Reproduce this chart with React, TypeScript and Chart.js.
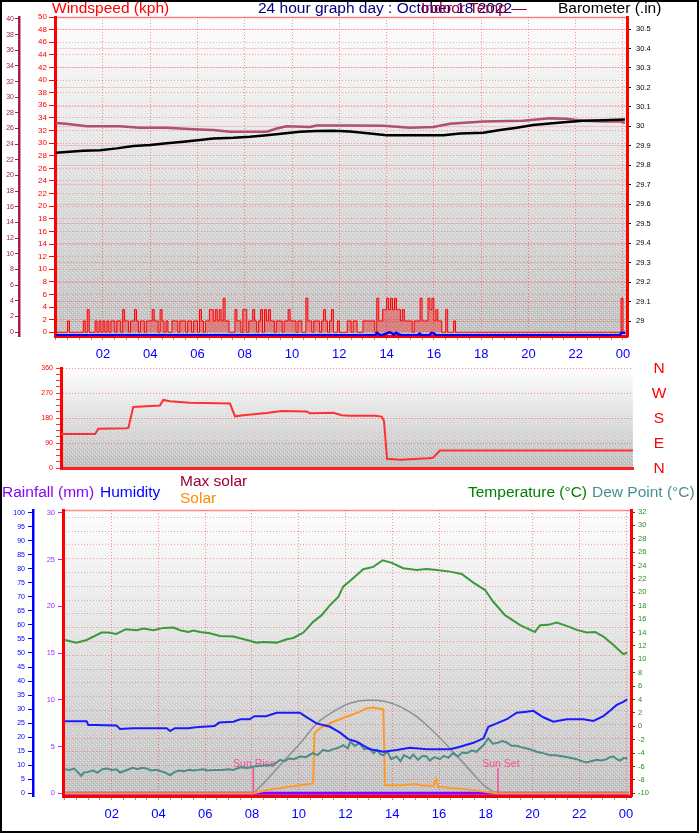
import React, { useEffect, useRef } from "react";
import { Chart, registerables } from "chart.js";

Chart.register(...registerables);

const FONT = '"Liberation Sans", Arial, Helvetica, sans-serif';

// ---------------- tick positions / labels ----------------
const HOUR_TICKS = Array.from({ length: 49 }, (_, i) => i / 2);
const WIND_TICKS = Array.from({ length: 26 }, (_, i) => i * 2);
const INDOOR_TICKS = Array.from({ length: 21 }, (_, i) => i * 2);
const BARO_TICKS = [29.0, 29.1, 29.2, 29.3, 29.4, 29.5, 29.6, 29.7, 29.8, 29.9, 30.0, 30.1, 30.2, 30.3, 30.4, 30.5];
const DIR_TICKS = [0, 22.5, 45, 67.5, 90, 112.5, 135, 157.5, 180, 202.5, 225, 247.5, 270, 292.5, 315, 337.5, 360];
const COMPASS_LABELS = ["N", "W", "S", "E", "N"]; // top to bottom: 360, 270, 180, 90, 0
const HUM_TICKS = Array.from({ length: 21 }, (_, i) => i * 5);
const RAIN_TICKS = [0, 5, 10, 15, 20, 25, 30];
const TEMP_TICKS = Array.from({ length: 22 }, (_, i) => -10 + i * 2);
const GRID3_TICKS = Array.from({ length: 21 }, (_, i) => i);

// ---------------- panel 1: wind / barometer / indoor ----------------
// wind speed (kph), one reading every 5 minutes, rows = hours 00..23
const WIND_SPEED = [
  0, 0, 0, 0, 0, 0, 1.8, 0, 0, 0, 0, 0,
  0, 0, 1.8, 0, 3.6, 0, 0, 0, 1.8, 0, 1.8, 0,
  1.8, 0, 1.8, 0, 1.8, 1.8, 0, 1.8, 1.8, 0, 3.6, 1.8,
  1.8, 0, 1.8, 1.8, 3.6, 1.8, 0, 1.8, 1.8, 0, 1.8, 1.8,
  1.8, 3.6, 1.8, 1.8, 0, 3.6, 1.8, 0, 1.8, 0, 0, 1.8,
  1.8, 1.8, 0, 1.8, 1.8, 1.8, 0, 1.8, 1.8, 0, 1.8, 1.8,
  0, 3.6, 1.8, 0, 1.8, 1.8, 3.6, 3.6, 1.8, 3.6, 1.8, 3.6,
  1.8, 5.4, 1.8, 1.8, 0, 0, 0, 3.6, 1.8, 1.8, 0, 3.6,
  3.6, 0, 1.8, 1.8, 3.6, 1.8, 0, 1.8, 3.6, 0, 3.6, 1.8,
  3.6, 1.8, 1.8, 0, 1.8, 1.8, 1.8, 0, 1.8, 1.8, 3.6, 1.8,
  1.8, 1.8, 0, 1.8, 1.8, 0, 0, 5.4, 1.8, 1.8, 0, 1.8,
  1.8, 1.8, 0, 1.8, 3.6, 1.8, 0, 1.8, 3.6, 0, 0, 1.8,
  0, 0, 0, 0, 1.8, 1.8, 0, 1.8, 1.8, 0, 0, 0,
  1.8, 1.8, 1.8, 1.8, 1.8, 1.8, 0, 5.4, 1.8, 1.8, 3.6, 3.6,
  5.4, 3.6, 5.4, 3.6, 5.4, 3.6, 3.6, 1.8, 3.6, 1.8, 1.8, 1.8,
  1.8, 0, 1.8, 1.8, 1.8, 5.4, 1.8, 1.8, 1.8, 5.4, 3.6, 5.4,
  1.8, 3.6, 1.8, 1.8, 0, 0, 3.6, 0, 0, 0, 1.8, 0,
  0, 0, 0, 0, 0, 0, 0, 0, 0, 0, 0, 0,
  0, 0, 0, 0, 0, 0, 0, 0, 0, 0, 0, 0,
  0, 0, 0, 0, 0, 0, 0, 0, 0, 0, 0, 0,
  0, 0, 0, 0, 0, 0, 0, 0, 0, 0, 0, 0,
  0, 0, 0, 0, 0, 0, 0, 0, 0, 0, 0, 0,
  0, 0, 0, 0, 0, 0, 0, 0, 0, 0, 0, 0,
  0, 0, 0, 0, 0, 0, 0, 0, 0, 0, 0, 5.4,
  0,
];
const WIND_HOURS = WIND_SPEED.map((_, i) => i / 12);

const AVG_HOURS = [0, 13.5, 13.6, 13.75, 14.0, 14.1, 14.2, 14.3, 14.4, 14.5, 14.7, 15.3, 15.4, 15.5, 15.8, 15.9, 16.0, 16.1, 23.85, 23.95, 24.1];
const AVG_WIND = [0, 0, 0.4, 0, 0.3, 0.5, 0.4, 0.1, 0.4, 0.2, 0, 0, 0.3, 0, 0, 0.4, 0.3, 0, 0, 0.4, 0.4];

const INDOOR_HOURS = [0, 0.45, 1.31, 1.9, 2.7, 3.57, 4.7, 5.82, 6.67, 7.37, 8.93, 9.35, 9.77, 10.76, 11.04, 12.45, 13.86, 14.99, 15.97, 16.68, 18.09, 19.78, 20.91, 21.6, 22.32, 23.16, 23.87, 24.08];
const INDOOR_TEMP = [26.7, 26.6, 26.3, 26.3, 26.3, 26.1, 26.1, 25.9, 25.8, 25.6, 25.6, 26.0, 26.3, 26.2, 26.4, 26.4, 26.35, 26.1, 26.2, 26.6, 26.9, 27.0, 27.3, 27.25, 27.0, 26.9, 26.9, 26.75];

const BARO_HOURS = [0, 1.17, 1.87, 2.58, 3.29, 4.0, 4.7, 5.4, 6.1, 6.67, 7.51, 8.22, 8.93, 9.63, 10.33, 11.04, 11.74, 12.45, 13.3, 14.0, 15.27, 16.4, 17.1, 18.09, 18.8, 19.5, 20.2, 20.91, 21.62, 22.32, 23.16, 24.08];
const BARO = [29.864, 29.875, 29.878, 29.887, 29.899, 29.904, 29.913, 29.921, 29.93, 29.938, 29.941, 29.947, 29.955, 29.964, 29.972, 29.976, 29.978, 29.974, 29.964, 29.955, 29.955, 29.955, 29.964, 29.967, 29.981, 29.993, 30.007, 30.015, 30.022, 30.029, 30.032, 30.036];

// ---------------- panel 2: wind direction ----------------
const DIR_HOURS = [0, 1.43, 1.57, 2.76, 2.83, 3.03, 4.15, 4.29, 4.57, 5.41, 7.09, 7.3, 7.65, 8.63, 9.26, 10.31, 10.45, 11.43, 11.78, 12.13, 13.18, 13.45, 13.55, 13.68, 14.23, 15.4, 15.61, 15.9, 24];
const DIR_DEG = [122, 122, 141, 143, 145, 220, 225, 245, 240, 235, 232, 186, 190, 198, 205, 203, 197, 199, 190, 188, 188, 185, 170, 33, 30, 35, 37, 63, 63];

// ---------------- panel 3: temperature / humidity / solar ----------------
const TEMP_HOURS = [0, 0.5, 0.93, 1.57, 1.85, 2.2, 2.61, 3.07, 3.36, 3.78, 4.21, 4.64, 4.93, 5.28, 5.5, 5.78, 6.2, 6.63, 7.2, 7.78, 8.2, 8.5, 9.06, 9.49, 9.77, 10.2, 10.62, 10.98, 11.34, 11.7, 11.9, 12.19, 12.76, 13.19, 13.59, 13.98, 14.47, 15.05, 15.47, 15.9, 16.47, 16.97, 17.47, 17.97, 18.32, 18.82, 19.47, 20.1, 20.32, 20.67, 21.03, 21.46, 21.89, 22.32, 22.67, 23.03, 23.46, 23.88, 24.05];
const TEMP = [12.9, 12.5, 12.9, 14.0, 14.0, 13.8, 14.5, 14.35, 14.6, 14.35, 14.7, 14.75, 14.35, 14.1, 14.3, 14.1, 13.9, 13.5, 13.4, 12.9, 12.5, 12.6, 12.5, 13.0, 13.2, 14.0, 15.6, 16.6, 18.1, 19.35, 20.85, 21.7, 23.45, 23.8, 24.8, 24.4, 23.6, 23.35, 23.5, 23.35, 23.1, 22.75, 21.45, 20.35, 18.6, 16.6, 15.1, 14.1, 15.1, 15.15, 15.5, 15.0, 14.4, 14.0, 14.1, 13.4, 12.15, 10.8, 11.0];

const HUM_HOURS = [0, 0.93, 1.0, 1.3, 2.2, 2.36, 2.9, 4.35, 4.5, 4.7, 5.28, 5.6, 6.4, 6.6, 7.2, 7.5, 7.9, 8.1, 8.6, 9.06, 10.05, 10.3, 10.76, 11.34, 11.77, 12.12, 12.48, 13.05, 13.62, 14.19, 14.76, 15.47, 16.04, 16.47, 16.9, 17.47, 17.9, 18.11, 18.47, 18.9, 19.32, 19.75, 20.03, 20.46, 20.89, 21.46, 22.17, 22.6, 23.03, 23.31, 23.6, 23.88, 24.05];
const HUMIDITY = [25.7, 25.7, 24.3, 24.3, 24.2, 22.9, 23.2, 23.2, 22.2, 23.2, 23.2, 23.5, 24.0, 25.2, 25.5, 26.4, 26.4, 27.5, 27.5, 28.7, 28.7, 27.3, 24.9, 23.7, 21.6, 19.3, 18.4, 15.7, 14.8, 15.4, 16.2, 15.7, 15.7, 15.7, 16.6, 18.0, 19.6, 23.7, 24.9, 26.4, 28.7, 29.1, 29.4, 27.1, 25.5, 26.4, 26.4, 25.8, 27.5, 29.4, 31.5, 32.6, 33.5];

const DEW_HOURS = [0, 0.2, 0.4, 0.6, 0.7, 0.8, 1.0, 1.2, 1.4, 1.6, 1.8, 2.0, 2.2, 2.36, 2.6, 2.9, 3.1, 3.3, 3.5, 3.7, 3.9, 4.1, 4.3, 4.5, 4.7, 4.9, 5.1, 5.3, 5.5, 5.7, 5.9, 6.1, 6.4, 6.7, 7.0, 7.2, 7.5, 7.8, 8.1, 8.35, 8.6, 8.9, 9.2, 9.4, 9.6, 9.8, 10.05, 10.3, 10.6, 10.8, 11.05, 11.25, 11.48, 11.7, 11.9, 12.1, 12.2, 12.4, 12.6, 12.8, 13.05, 13.2, 13.35, 13.5, 13.62, 13.8, 13.95, 14.19, 14.35, 14.5, 14.76, 14.9, 15.1, 15.3, 15.47, 15.6, 15.8, 16.04, 16.2, 16.4, 16.6, 16.8, 17.0, 17.18, 17.4, 17.6, 17.9, 18.11, 18.3, 18.47, 18.7, 18.9, 19.1, 19.32, 19.5, 19.75, 19.95, 20.17, 20.45, 20.75, 21.0, 21.32, 21.6, 21.89, 22.1, 22.32, 22.5, 22.74, 22.95, 23.17, 23.3, 23.46, 23.6, 23.74, 23.9, 24.05];
const DEW_POINT = [-6.4, -6.5, -6.3, -7.0, -7.4, -6.9, -6.8, -6.6, -6.9, -6.4, -6.3, -6.5, -6.4, -6.9, -6.6, -6.2, -6.4, -6.2, -6.3, -6.6, -6.5, -6.7, -6.9, -7.3, -6.8, -6.6, -6.7, -6.5, -6.6, -6.5, -6.4, -6.6, -6.5, -6.5, -6.4, -6.5, -6.1, -6.2, -6.0, -5.9, -5.8, -5.8, -5.0, -5.2, -4.8, -4.9, -4.5, -4.6, -4.0, -4.3, -3.5, -3.7, -3.4, -3.2, -2.8, -3.3, -2.3, -2.9, -2.5, -3.4, -3.3, -4.0, -3.5, -4.2, -4.3, -3.8, -4.9, -4.5, -5.2, -4.3, -4.8, -4.2, -5.0, -4.4, -4.5, -5.1, -4.6, -4.9, -4.4, -4.7, -4.0, -4.5, -3.9, -4.0, -3.6, -3.8, -2.8, -1.8, -2.6, -2.5, -2.2, -2.4, -2.9, -2.9, -3.1, -3.3, -3.5, -3.8, -4.0, -4.3, -4.3, -4.5, -4.7, -4.9, -5.2, -5.4, -5.2, -5.0, -5.1, -4.9, -4.6, -4.5, -4.9, -5.1, -4.7, -4.8];

const SOLAR_HOURS = [0, 8.06, 8.63, 9.34, 10.06, 10.62, 10.67, 10.91, 11.48, 12.05, 12.62, 12.91, 13.19, 13.62, 13.69, 14.33, 15.05, 15.19, 15.76, 15.86, 15.97, 16.6, 17.19, 17.9, 18.47, 24.1];
const SOLAR = [0, 0, 11, 21, 29, 35, 214, 232, 255, 273, 291, 303, 306, 299, 29, 29, 33, 29, 26, 52, 23, 18, 14, 6, 0, 0];

const MAXSOLAR_HOURS = [8.06, 8.63, 9.34, 10.06, 10.77, 11.48, 12.19, 12.91, 13.33, 13.76, 14.33, 15.05, 15.76, 16.47, 17.19, 17.9, 18.33, 18.54];
const MAX_SOLAR = [0, 47, 113, 178, 249, 291, 321, 332, 332, 326, 309, 273, 220, 160, 95, 30, 6, 0];

const RAIN_HOURS = [0, 24.1];
const RAINFALL = [0, 0];

const SUN_RISE = 8.06;
const SUN_SET = 18.52;
const SUN_MARK_TOP = 9; // marker height on humidity scale

// ---------------- helpers ----------------
type P = { x: number; y: number };
const pts = (xs: number[], ys: number[]): P[] => xs.map((x, i) => ({ x, y: ys[i] }));
const setTicks = (vals: number[]) => (axis: any) => {
  axis.ticks = vals.map((v) => ({ value: v }));
};
const fixW = (w: number) => (axis: any) => {
  axis.width = w;
};
const fixH = (h: number) => (axis: any) => {
  axis.height = h;
};
const hourLabel = (v: any) => {
  const n = Number(v);
  return n > 0 && Math.abs(n % 2) < 1e-9 ? String(n % 24).padStart(2, "0") : "";
};
const evenHourGrid = (c: any) => {
  const v = c.tick ? c.tick.value : -1;
  return v > 0 && Math.abs(v % 2) < 1e-9 ? "rgba(255,40,40,0.5)" : "rgba(0,0,0,0)";
};

let stipple: CanvasPattern | null = null;
const getStipple = (ctx: CanvasRenderingContext2D) => {
  if (stipple) return stipple;
  const c = document.createElement("canvas");
  c.width = 4;
  c.height = 4;
  const g = c.getContext("2d")!;
  g.fillStyle = "rgba(255,255,255,0.5)";
  g.fillRect(0, 0, 1, 1);
  g.fillRect(2, 2, 1, 1);
  g.fillStyle = "rgba(90,90,90,0.08)";
  g.fillRect(1, 3, 1, 1);
  g.fillRect(3, 1, 1, 1);
  stipple = ctx.createPattern(c, "repeat");
  return stipple;
};

const panelBg = {
  id: "panelBg",
  beforeDraw(chart: any, _a: any, opts: any) {
    const { ctx, chartArea: a } = chart;
    if (!a) return;
    ctx.save();
    const g = ctx.createLinearGradient(0, a.top, 0, a.bottom);
    g.addColorStop(0, opts.top || "#ffffff");
    g.addColorStop(1, opts.bottom || "#c0c0c0");
    ctx.fillStyle = g;
    ctx.fillRect(a.left, a.top, a.right - a.left, a.bottom - a.top);
    const p = getStipple(ctx);
    if (p) {
      ctx.fillStyle = p;
      ctx.fillRect(a.left, a.top, a.right - a.left, a.bottom - a.top);
    }
    if (opts.topLine) {
      ctx.strokeStyle = opts.topLine;
      ctx.lineWidth = 1.5;
      ctx.beginPath();
      ctx.moveTo(a.left, a.top + 0.5);
      ctx.lineTo(a.right, a.top + 0.5);
      ctx.stroke();
    }
    ctx.restore();
  },
};

const sunLabels = {
  id: "sunLabels",
  beforeDatasetsDraw(chart: any) {
    const { ctx } = chart;
    const x = chart.scales.x;
    const y = chart.scales.yHum;
    if (!x || !y) return;
    ctx.save();
    ctx.font = `10.5px ${FONT}`;
    ctx.fillStyle = "#f0509a";
    ctx.textAlign = "center";
    ctx.textBaseline = "alphabetic";
    const yy = y.getPixelForValue(SUN_MARK_TOP) - 1;
    ctx.fillText("Sun Rise", x.getPixelForValue(SUN_RISE) + 1, yy);
    ctx.fillText("Sun Set", x.getPixelForValue(SUN_SET) + 3, yy);
    ctx.restore();
  },
};

const baseOpts = (bg: any) => ({
  responsive: false,
  maintainAspectRatio: false,
  animation: false as const,
  events: [] as any[],
  plugins: { legend: { display: false }, tooltip: { enabled: false }, panelBg: bg },
  elements: { point: { radius: 0 }, line: { tension: 0 } },
});

// ---------------- chart configs ----------------
function config1(): any {
  return {
    type: "line",
    data: {
      datasets: [
        { data: pts(AVG_HOURS, AVG_WIND), yAxisID: "yAvg", borderColor: "#0000ff", borderWidth: 2.5, order: 0 },
        { data: pts(BARO_HOURS, BARO), yAxisID: "yBaro", borderColor: "#000000", borderWidth: 2.5, order: 1 },
        { data: pts(INDOOR_HOURS, INDOOR_TEMP), yAxisID: "yIn", borderColor: "#b0506e", borderWidth: 2.5, order: 2 },
        {
          data: pts(WIND_HOURS, WIND_SPEED),
          yAxisID: "yWind",
          borderColor: "#ff0000",
          backgroundColor: "rgba(255,0,0,0.35)",
          fill: "origin",
          stepped: true,
          borderWidth: 1,
          order: 3,
        },
      ],
    },
    options: {
      ...baseOpts({ top: "#ffffff", bottom: "#c2c2c2", topLine: "rgba(255,60,60,0.6)" }),
      layout: { padding: { top: 17, left: 0, right: 0, bottom: 0 } },
      scales: {
        x: {
          type: "linear",
          min: -0.03,
          max: 24.17,
          afterBuildTicks: setTicks(HOUR_TICKS),
          afterFit: fixH(29),
          ticks: { autoSkip: false, maxRotation: 0, minRotation: 0, padding: 7, color: "#0000ff", font: { family: FONT, size: 13 }, callback: hourLabel },
          grid: { color: evenHourGrid, tickColor: "#999999", tickLength: 4 },
          border: { display: true, color: "#ff0000", width: 3, dash: [1, 2] },
        },
        yWind: {
          type: "linear",
          position: "left",
          weight: 0,
          min: -0.59,
          max: 50,
          afterBuildTicks: setTicks(WIND_TICKS),
          afterFit: fixW(36),
          ticks: { autoSkip: false, padding: 2, color: "#ff0000", font: { family: FONT, size: 8 } },
          grid: { color: "rgba(255,40,40,0.4)", tickColor: "#ff0000", tickLength: 6 },
          border: { display: true, color: "#ff0000", width: 3, dash: [1, 2] },
        },
        yIn: {
          type: "linear",
          position: "left",
          weight: 1,
          min: -0.5,
          max: 40.25,
          afterBuildTicks: setTicks(INDOOR_TICKS),
          afterFit: fixW(19),
          ticks: { autoSkip: false, padding: 1, color: "#a0204a", font: { family: FONT, size: 7 } },
          grid: { drawOnChartArea: false, tickColor: "#a0204a", tickLength: 4 },
          border: { display: true, color: "#a0204a", width: 2.5 },
        },
        yBaro: {
          type: "linear",
          position: "right",
          min: 28.923,
          max: 30.562,
          afterBuildTicks: setTicks(BARO_TICKS),
          afterFit: fixW(72),
          ticks: {
            autoSkip: false,
            padding: 5,
            color: "#000000",
            font: { family: FONT, size: 7.5 },
            callback: (v: any) => String(Number(Number(v).toFixed(1))),
          },
          grid: { color: "rgba(255,40,40,0.2)", tickColor: "#000000", tickLength: 4 },
          border: { display: true, color: "#ff0000", width: 3 },
        },
        yAvg: { type: "linear", display: false, min: -0.1, max: 50.5 },
      },
    },
    plugins: [panelBg],
  };
}

function config2(): any {
  return {
    type: "line",
    data: {
      datasets: [{ data: pts(DIR_HOURS, DIR_DEG), yAxisID: "yDir", borderColor: "#ff3030", borderWidth: 2 }],
    },
    options: {
      ...baseOpts({ top: "#ffffff", bottom: "#bfbfbf" }),
      layout: { padding: { top: 13, left: 0, right: 66, bottom: 17 } },
      scales: {
        x: {
          type: "linear",
          min: 0,
          max: 24,
          afterFit: fixH(0),
          ticks: { display: false },
          grid: { display: false, drawTicks: false },
          border: { display: true, color: "#ff2020", width: 3 },
        },
        yDir: {
          type: "linear",
          position: "left",
          min: 0,
          max: 360,
          afterBuildTicks: setTicks(DIR_TICKS),
          afterFit: fixW(61),
          ticks: {
            autoSkip: false,
            padding: 3,
            color: "#ff0000",
            font: { family: FONT, size: 7 },
            callback: (v: any) => (Number(v) % 90 === 0 ? String(v) : ""),
          },
          grid: {
            color: (c: any) => (c.tick && c.tick.value % 90 === 0 && c.tick.value > 0 ? "rgba(255,40,40,0.5)" : "rgba(0,0,0,0)"),
            tickColor: "#ff3030",
            tickLength: 5,
          },
          border: { display: true, color: "#ff0000", width: 3, dash: [1, 2] },
        },
      },
    },
    plugins: [panelBg],
  };
}

function config3(): any {
  return {
    type: "line",
    data: {
      datasets: [
        { data: [{ x: SUN_RISE, y: 0 }, { x: SUN_RISE, y: SUN_MARK_TOP }], yAxisID: "yHum", borderColor: "#f0509a", borderWidth: 1.5, order: 0 },
        { data: [{ x: SUN_SET, y: 0 }, { x: SUN_SET, y: SUN_MARK_TOP }], yAxisID: "yHum", borderColor: "#f0509a", borderWidth: 1.5, order: 0 },
        { data: pts(HUM_HOURS, HUMIDITY), yAxisID: "yHum", borderColor: "#1a1aff", borderWidth: 2, order: 1 },
        { data: pts(DEW_HOURS, DEW_POINT), yAxisID: "yTemp", borderColor: "#4d8c88", borderWidth: 2, order: 2 },
        { data: pts(TEMP_HOURS, TEMP), yAxisID: "yTemp", borderColor: "#3a9a3a", borderWidth: 2, order: 3 },
        { data: pts(SOLAR_HOURS, SOLAR), yAxisID: "ySolar", borderColor: "#ff9a2a", borderWidth: 2, order: 4 },
        { data: pts(MAXSOLAR_HOURS, MAX_SOLAR), yAxisID: "ySolar", borderColor: "#909090", borderWidth: 1.5, cubicInterpolationMode: "monotone", order: 5 },
        { data: pts(RAIN_HOURS, RAINFALL), yAxisID: "yRain", borderColor: "#8a00ff", borderWidth: 3, order: 6 },
      ],
    },
    options: {
      ...baseOpts({ top: "#ffffff", bottom: "#c2c2c2", topLine: "rgba(255,60,60,0.6)" }),
      layout: { padding: { top: 10, left: 0, right: 0, bottom: 0 } },
      scales: {
        x: {
          type: "linear",
          min: -0.08,
          max: 24.21,
          afterBuildTicks: setTicks(HOUR_TICKS),
          afterFit: fixH(34),
          ticks: { autoSkip: false, maxRotation: 0, minRotation: 0, padding: 7, color: "#0000ff", font: { family: FONT, size: 13 }, callback: hourLabel },
          grid: { color: evenHourGrid, tickColor: "#999999", tickLength: 4 },
          border: { display: true, color: "#ff0000", width: 3, dash: [1, 2] },
        },
        yRain: {
          type: "linear",
          position: "left",
          weight: 0,
          min: -0.29,
          max: 30.29,
          afterBuildTicks: setTicks(RAIN_TICKS),
          afterFit: fixW(30),
          ticks: { autoSkip: false, padding: 3, color: "#9933ff", font: { family: FONT, size: 7.5 } },
          grid: { drawOnChartArea: false, tickColor: "#9933ff", tickLength: 5 },
          border: { display: true, color: "#ff0000", width: 3 },
        },
        yHum: {
          type: "linear",
          position: "left",
          weight: 1,
          min: -0.96,
          max: 100.96,
          afterBuildTicks: setTicks(HUM_TICKS),
          afterFit: fixW(33),
          ticks: { autoSkip: false, padding: 3, color: "#0000ff", font: { family: FONT, size: 7 } },
          grid: { drawOnChartArea: false, tickColor: "#0000ff", tickLength: 5 },
          border: { display: true, color: "#0000ff", width: 2.5 },
        },
        yTemp: {
          type: "linear",
          position: "right",
          weight: 0,
          min: -10.4,
          max: 32.3,
          afterBuildTicks: setTicks(TEMP_TICKS),
          afterFit: fixW(68),
          ticks: { autoSkip: false, padding: 3, color: "#2a8a2a", font: { family: FONT, size: 7.5 } },
          grid: { drawOnChartArea: false, tickColor: "#006400", tickLength: 4 },
          border: { display: true, color: "#ff0000", width: 3 },
        },
        yGrid: {
          type: "linear",
          position: "right",
          weight: 5,
          min: -0.196,
          max: 20.53,
          afterBuildTicks: setTicks(GRID3_TICKS),
          afterFit: fixW(0),
          ticks: { display: false },
          grid: { color: "rgba(255,40,40,0.4)", drawTicks: false },
          border: { display: false, dash: [1, 2] },
        },
        ySolar: { type: "linear", display: false, min: -9.6, max: 1009.6 },
      },
    },
    plugins: [panelBg, sunLabels],
  };
}

function ChartCanvas({ make, top, height }: { make: () => any; top: number; height: number }) {
  const ref = useRef<HTMLCanvasElement | null>(null);
  useEffect(() => {
    if (!ref.current) return;
    const chart = new Chart(ref.current, make());
    return () => chart.destroy();
  }, [make]);
  return (
    <canvas
      ref={ref}
      width={699}
      height={height}
      style={{ position: "absolute", left: 0, top, width: 699, height }}
    />
  );
}

const textStyle = (left: number, top: number, color: string): React.CSSProperties => ({
  position: "absolute",
  left,
  top,
  color,
  fontFamily: FONT,
  fontSize: 15.5,
  lineHeight: "15.5px",
  whiteSpace: "nowrap",
});

export default function App() {
  return (
    <div style={{ position: "absolute", left: 0, top: 0, width: 699, height: 833, background: "#ffffff", overflow: "hidden" }}>
      <ChartCanvas make={config1} top={0} height={365} />
      <ChartCanvas make={config2} top={355} height={130} />
      <ChartCanvas make={config3} top={500} height={330} />

      <span style={textStyle(52, 0, "#ff0000")}>Windspeed (kph)</span>
      <span style={textStyle(258, 0, "#000080")}>24 hour graph day : October 18 2022</span>
      <span style={textStyle(421, 0, "#990033")}>Indoor Temp —</span>
      <span style={textStyle(558, 0, "#000000")}>Barometer (.in)</span>

      {COMPASS_LABELS.map((t, i) => (
        <span key={i} style={{ ...textStyle(649, 360 + i * 25, "#ff0000"), width: 20, textAlign: "center" }}>
          {t}
        </span>
      ))}

      <span style={textStyle(2, 483.5, "#8a00ff")}>Rainfall (mm)</span>
      <span style={textStyle(100, 483.5, "#0000ff")}>Humidity</span>
      <span style={textStyle(180, 473, "#990033")}>Max solar</span>
      <span style={textStyle(180, 490, "#ff8c00")}>Solar</span>
      <span style={textStyle(468, 483.5, "#008000")}>Temperature (°C)</span>
      <span style={textStyle(592, 483.5, "#4a8f8f")}>Dew Point (°C)</span>

      <div
        style={{
          position: "absolute",
          left: 0,
          top: 0,
          width: 699,
          height: 833,
          border: "2px solid #000000",
          boxSizing: "border-box",
          pointerEvents: "none",
        }}
      />
    </div>
  );
}
